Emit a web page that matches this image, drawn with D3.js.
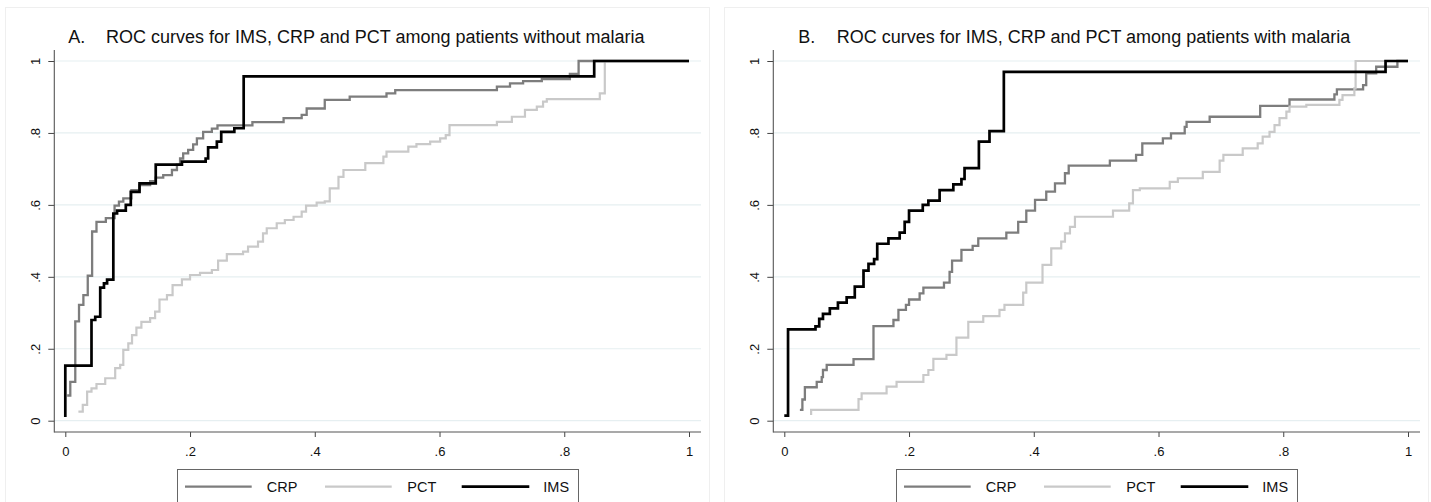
<!DOCTYPE html>
<html><head><meta charset="utf-8">
<script src="https://cdn.jsdelivr.net/npm/d3@7"></script>
<style>body{margin:0;background:#fff} svg{display:block}</style>
</head><body><svg id="c" width="1431" height="502"></svg>
<script>
// ---------- data ----------
const seriesNames = ["CRP", "PCT", "IMS"];
const xTicks = [0, 0.2, 0.4, 0.6, 0.8, 1];
const yTicks = [0, 0.2, 0.4, 0.6, 0.8, 1];
const tickLabels = ["0", ".2", ".4", ".6", ".8", "1"];
const panelLabels = ["A.", "B."];
const panelTitles = [
  "ROC curves for IMS, CRP and PCT among patients without malaria",
  "ROC curves for IMS, CRP and PCT among patients with malaria"
];

// [1 - specificity, sensitivity] corner points of the step curves
const crpA = [[0.003,0.07],[0.008,0.108],[0.016,0.276],[0.022,0.322],[0.029,0.349],[0.036,0.403],[0.043,0.526],[0.050,0.553],[0.065,0.563],[0.079,0.598],[0.086,0.609],[0.093,0.618],[0.106,0.641],[0.119,0.655],[0.136,0.666],[0.145,0.676],[0.157,0.683],[0.171,0.697],[0.179,0.712],[0.184,0.729],[0.189,0.743],[0.197,0.753],[0.205,0.768],[0.211,0.785],[0.221,0.803],[0.235,0.812],[0.244,0.821],[0.300,0.830],[0.350,0.841],[0.379,0.850],[0.387,0.868],[0.416,0.892],[0.456,0.901],[0.515,0.910],[0.529,0.919],[0.692,0.929],[0.713,0.938],[0.734,0.944],[0.764,0.950],[0.809,0.964],[0.823,1.0],[1,1]];
const pctA = [[0.021,0.025],[0.028,0.044],[0.035,0.081],[0.042,0.090],[0.050,0.102],[0.064,0.118],[0.080,0.146],[0.088,0.155],[0.093,0.197],[0.101,0.215],[0.107,0.238],[0.114,0.259],[0.122,0.275],[0.136,0.285],[0.144,0.303],[0.151,0.337],[0.163,0.349],[0.172,0.377],[0.187,0.393],[0.200,0.405],[0.216,0.411],[0.235,0.419],[0.245,0.445],[0.259,0.463],[0.285,0.470],[0.293,0.484],[0.309,0.498],[0.317,0.521],[0.323,0.535],[0.339,0.549],[0.352,0.558],[0.366,0.567],[0.379,0.581],[0.386,0.598],[0.403,0.606],[0.416,0.610],[0.424,0.646],[0.438,0.678],[0.446,0.697],[0.481,0.716],[0.510,0.734],[0.515,0.748],[0.550,0.762],[0.563,0.769],[0.585,0.776],[0.601,0.785],[0.610,0.794],[0.616,0.822],[0.692,0.831],[0.716,0.845],[0.737,0.864],[0.756,0.873],[0.766,0.887],[0.772,0.894],[0.857,0.910],[0.865,1.0],[1,1]];
const imsA = [[0,0.01],[0,0.153],[0.042,0.280],[0.048,0.289],[0.056,0.370],[0.062,0.382],[0.067,0.392],[0.077,0.399],[0.077,0.576],[0.083,0.584],[0.097,0.600],[0.105,0.636],[0.119,0.660],[0.145,0.712],[0.187,0.720],[0.225,0.729],[0.229,0.760],[0.243,0.776],[0.250,0.803],[0.271,0.813],[0.286,0.957],[0.848,1.0],[1,1]];

const crpB = [[0.025,0.030],[0.029,0.059],[0.033,0.093],[0.052,0.108],[0.060,0.121],[0.062,0.141],[0.068,0.155],[0.111,0.171],[0.143,0.263],[0.175,0.280],[0.183,0.308],[0.195,0.322],[0.200,0.337],[0.217,0.354],[0.223,0.370],[0.256,0.384],[0.265,0.414],[0.269,0.445],[0.284,0.475],[0.302,0.486],[0.311,0.507],[0.356,0.523],[0.375,0.553],[0.388,0.584],[0.402,0.614],[0.420,0.637],[0.434,0.660],[0.450,0.688],[0.456,0.709],[0.522,0.723],[0.564,0.739],[0.574,0.771],[0.607,0.785],[0.620,0.799],[0.642,0.817],[0.645,0.831],[0.682,0.845],[0.763,0.875],[0.810,0.893],[0.882,0.907],[0.886,0.921],[0.928,0.933],[0.933,0.966],[0.949,0.984],[0.983,1.0],[1,1]];
const pctB = [[0.043,0.016],[0.043,0.030],[0.119,0.060],[0.124,0.076],[0.164,0.095],[0.180,0.108],[0.223,0.127],[0.231,0.141],[0.239,0.172],[0.260,0.183],[0.276,0.231],[0.295,0.275],[0.319,0.291],[0.345,0.308],[0.353,0.322],[0.383,0.356],[0.388,0.384],[0.414,0.433],[0.428,0.479],[0.444,0.498],[0.450,0.521],[0.458,0.539],[0.466,0.567],[0.527,0.584],[0.553,0.604],[0.559,0.641],[0.570,0.646],[0.618,0.664],[0.631,0.674],[0.671,0.692],[0.698,0.723],[0.704,0.739],[0.735,0.757],[0.759,0.771],[0.767,0.790],[0.778,0.803],[0.786,0.822],[0.794,0.841],[0.805,0.859],[0.810,0.873],[0.837,0.878],[0.890,0.892],[0.895,0.905],[0.914,0.924],[0.916,1.0],[1,1]];
const imsB = [[0,0.014],[0.006,0.254],[0.050,0.262],[0.056,0.283],[0.062,0.297],[0.073,0.312],[0.086,0.328],[0.100,0.343],[0.113,0.373],[0.127,0.417],[0.135,0.436],[0.144,0.449],[0.149,0.492],[0.167,0.507],[0.185,0.523],[0.193,0.553],[0.200,0.584],[0.222,0.600],[0.231,0.612],[0.249,0.641],[0.271,0.657],[0.284,0.672],[0.289,0.702],[0.312,0.776],[0.329,0.805],[0.352,0.970],[0.964,1.0],[1,1]];

const panelSeries = [
  {CRP: crpA, PCT: pctA, IMS: imsA},
  {CRP: crpB, PCT: pctB, IMS: imsB}
];

// ---------- styles / layout ----------
const FONT = "'Liberation Sans', Arial, Helvetica, sans-serif";
const color = {CRP: "#7d7d7d", PCT: "#c9c9c9", IMS: "#000000"};
const width = {CRP: 2.3, PCT: 2.2, IMS: 2.7};
const panelLayout = [
  {ox: 0,   labelX: 68.3, titleX: 106},
  {ox: 719, labelX: 79.3, titleX: 117.7}
];

const svg = d3.select("#c");
svg.append("rect").attr("width", 1431).attr("height", 502).attr("fill", "#fff");

panelLayout.forEach((L, i) => {
  const g = svg.append("g").attr("transform", `translate(${L.ox},0)`);
  // faint outer frame
  g.append("rect").attr("x", 5.5).attr("y", 7.5).attr("width", 704).attr("height", 520)
    .attr("fill", "none").attr("stroke", "#efefef").attr("stroke-width", 1);

  const x = d3.scaleLinear().domain([0, 1]).range([65.3, 689]);
  const y = d3.scaleLinear().domain([0, 1]).range([420.7, 61]);
  const left = 54.3, right = 701, bottom = 432, top = 50;

  // grid
  g.append("g").selectAll("line").data(yTicks).join("line")
    .attr("x1", left).attr("x2", right)
    .attr("y1", d => y(d)).attr("y2", d => y(d))
    .attr("stroke", "#e6eff1").attr("stroke-width", 1.2);

  // axes
  const xAxis = d3.axisBottom(x).tickValues(xTicks).tickSize(5)
    .tickFormat((d, k) => tickLabels[k]);
  const gx = g.append("g").attr("transform", `translate(0,${bottom})`).call(xAxis);
  gx.select(".domain").remove();
  gx.selectAll(".tick line").attr("stroke", "#444");
  gx.selectAll(".tick text").attr("y", 24).attr("dy", 0)
    .attr("font-family", FONT).attr("font-size", 13).attr("fill", "#111");

  const yAxis = d3.axisLeft(y).tickValues(yTicks).tickSize(6)
    .tickFormat((d, k) => tickLabels[k]);
  const gy = g.append("g").attr("transform", `translate(${left},0)`).call(yAxis);
  gy.select(".domain").remove();
  gy.selectAll(".tick line").attr("stroke", "#444");
  gy.selectAll(".tick text")
    .attr("x", 0).attr("dy", 0).attr("text-anchor", "middle")
    .attr("transform", "translate(-14.5,0) rotate(-90)")
    .attr("font-family", FONT).attr("font-size", 13).attr("fill", "#111");

  g.append("line").attr("x1", left).attr("x2", left).attr("y1", top).attr("y2", bottom + 0.5)
    .attr("stroke", "#555").attr("stroke-width", 1.1);
  g.append("line").attr("x1", left).attr("x2", right).attr("y1", bottom).attr("y2", bottom)
    .attr("stroke", "#555").attr("stroke-width", 1.1);

  // curves
  const line = d3.line().x(d => x(d[0])).y(d => y(d[1])).curve(d3.curveStepAfter);
  seriesNames.forEach(s => {
    g.append("path").datum(panelSeries[i][s])
      .attr("d", line).attr("fill", "none")
      .attr("stroke", color[s]).attr("stroke-width", width[s])
      .attr("stroke-linejoin", "miter").attr("stroke-linecap", "butt");
  });

  // title
  g.append("text").attr("x", L.labelX).attr("y", 43).text(panelLabels[i])
    .attr("font-family", FONT).attr("font-size", 18).attr("fill", "#111");
  g.append("text").attr("x", L.titleX).attr("y", 43).text(panelTitles[i])
    .attr("font-family", FONT).attr("font-size", 18).attr("fill", "#111");

  // legend
  const lg = g.append("g");
  lg.append("rect").attr("x", 177.5).attr("y", 469.5).attr("width", 401).attr("height", 40)
    .attr("fill", "#fff").attr("stroke", "#666").attr("stroke-width", 1);
  const legendPos = [
    {x1: 185, x2: 251.7, tx: 266.7},
    {x1: 325, x2: 391.7, tx: 407.3},
    {x1: 461.7, x2: 529.3, tx: 543.3}
  ];
  seriesNames.forEach((s, k) => {
    const p = legendPos[k];
    lg.append("line").attr("x1", p.x1).attr("x2", p.x2).attr("y1", 486.7).attr("y2", 486.7)
      .attr("stroke", color[s]).attr("stroke-width", width[s]);
    lg.append("text").attr("x", p.tx).attr("y", 491.7).text(s)
      .attr("font-family", FONT).attr("font-size", 14.5).attr("fill", "#111");
  });
});
</script></body></html>
